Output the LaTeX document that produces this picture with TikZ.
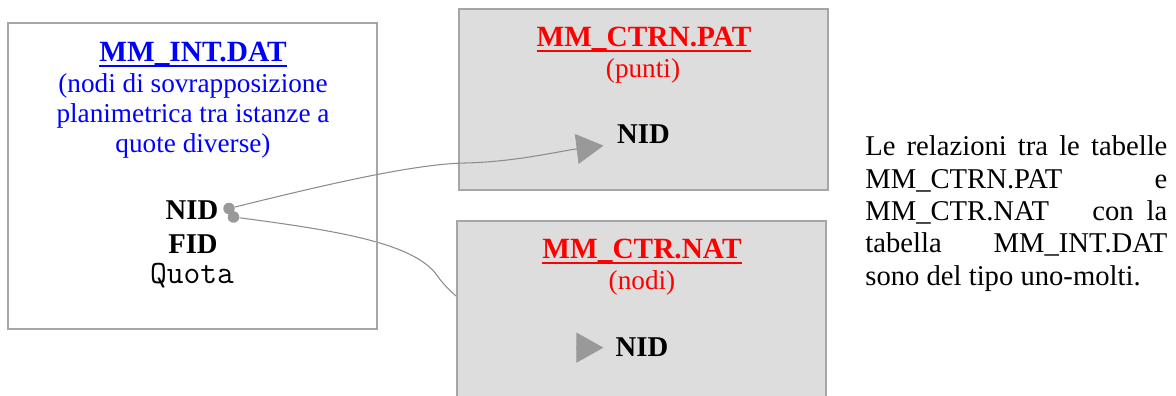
\documentclass[tikz,border=0pt]{standalone}
\usepackage{fontspec}
\setmainfont{Liberation Serif}
\usetikzlibrary{arrows.meta,backgrounds}

\definecolor{bordo}{HTML}{A6A6A6}
\definecolor{fondo}{HTML}{DDDDDD}
\definecolor{linea}{HTML}{8C8C8C}
\definecolor{punta}{HTML}{999999}
\definecolor{blu}{RGB}{0,0,255}
\definecolor{rosso}{RGB}{255,0,0}

\setlength{\parindent}{0pt}
\newcommand{\sottolinea}[1]{\leavevmode\setbox0\hbox{#1}\rlap{\vrule width\wd0 height -1.7pt depth 3pt}\box0}

\begin{document}
\begin{tikzpicture}[
  campo/.style={inner sep=0pt, anchor=base, font=\fontsize{16.3}{18.4}\selectfont\bfseries},
  titolo/.style={inner sep=0pt, anchor=base, font=\fontsize{16.7}{18.4}\selectfont\bfseries},
  nota/.style={inner sep=0pt, anchor=north, align=center, font=\fontsize{15.5}{17.07}\selectfont},
  legame/.style={draw=linea, line width=0.6pt},
  freccia/.style={-{Triangle[length=0.54cm,width=0.6cm,color=punta]}},
  punto/.style={circle, fill=punta, inner sep=0pt, minimum size=0.23cm}]
  \useasboundingbox (0,0) rectangle (23.52,7.92);

  \draw[bordo, line width=0.8pt] (0.16,1.34) rectangle (7.54,7.46);
  \filldraw[fill=fondo, draw=bordo, line width=0.8pt] (9.18,4.12) rectangle (16.56,7.74);
  \fill[fondo] (9.14,0) rectangle (16.52,3.5);
  \draw[bordo, line width=0.8pt] (9.14,0) |- (16.52,3.5) -- (16.52,0);

  % MM_INT.DAT
  \node[titolo, blu] (tint) at (3.86,6.68) {\sottolinea{MM\_INT.DAT}};
  \node[nota, blu] (nint) at (3.86,6.45) {(nodi di sovrapposizione\\planimetrica tra istanze a\\quote diverse)};
  \node[campo] (nidint) at (3.84,3.52) {NID};
  \node[campo] (fidint) at (3.86,2.84) {FID};
  \node[inner sep=0pt, anchor=base, font=\fontsize{18.5}{19}\selectfont\ttfamily] (quota) at (3.84,2.24) {Quota};

  % MM_CTRN.PAT
  \node[titolo, rosso] (tctrn) at (12.88,6.98) {\sottolinea{MM\_CTRN.PAT}};
  \node[nota, rosso, anchor=base] (nctrn) at (12.86,6.37) {(punti)};
  \node[campo] (nidctrn) at (12.87,5.04) {NID};

  % MM_CTR.NAT
  \node[titolo, rosso] (tctr) at (12.84,2.74) {\sottolinea{MM\_CTR.NAT}};
  \node[nota, rosso, anchor=base] (nctr) at (12.84,2.12) {(nodi)};
  \node[campo] (nidctr) at (12.84,0.78) {NID};

  \node[punto] (pA) at (4.58,3.75) {};
  \node[punto] (pB) at (4.67,3.58) {};

  \draw[legame, freccia, shorten >=0.27cm] (pA) .. controls (6.6,4.25) and (8.3,4.64) .. (9.3,4.66)
    .. controls (10.3,4.68) and (11.2,4.9) .. (nidctrn.base west);
  \begin{pgfonlayer}{background}
    \draw[legame, shorten >=0.3cm] (pB) .. controls (6.8,3.3) and (8.3,3.05) .. (8.75,2.4)
      .. controls (9.05,1.95) and (10.2,1.0) .. (nidctr.west);
  \end{pgfonlayer}
  \draw[legame, freccia, shorten >=0.24cm] ([xshift=-0.78cm]nidctr.west) -- (nidctr.west);

  \node[inner sep=0pt, anchor=north west, text width=6.04cm, align=justify,
    font=\fontsize{16.3}{18.4}\selectfont] (testo) at (17.3,5.21)
    {Le relazioni tra le tabelle\linebreak MM\_CTRN.PAT\hfill e\\
     MM\_CTR.NAT\hfill con\hspace{0.45em}la\\
     tabella\hfill MM\_INT.DAT\\
     sono del tipo uno-molti.};
\end{tikzpicture}
\end{document}
